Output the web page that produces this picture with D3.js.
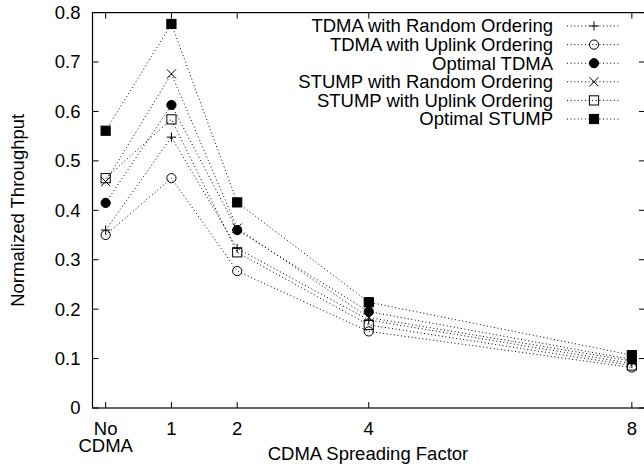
<!DOCTYPE html>
<html>
<head>
<meta charset="utf-8">
<script src="https://cdn.jsdelivr.net/npm/d3@7"></script>
<style>
  body { margin: 0; background: #fff; }
  svg { display: block; }
  text { font-family: "Liberation Sans", Arial, sans-serif; fill: #000; }
</style>
</head>
<body>
<div id="chart"></div>
<script>
(function () {

// spreading factor (0 = no CDMA)
var factors = [0, 1, 2, 4, 8];
var tickLabels = [["No", "CDMA"], ["1"], ["2"], ["4"], ["8"]];
var yTicks = [0, 0.1, 0.2, 0.3, 0.4, 0.5, 0.6, 0.7, 0.8];

var tdmaRandom   = [0.360, 0.548, 0.323, 0.178, 0.090];
var tdmaUplink   = [0.350, 0.465, 0.277, 0.155, 0.082];
var tdmaOptimal  = [0.415, 0.613, 0.360, 0.195, 0.098];
var stumpRandom  = [0.458, 0.676, 0.364, 0.183, 0.095];
var stumpUplink  = [0.465, 0.584, 0.315, 0.168, 0.086];
var stumpOptimal = [0.561, 0.777, 0.416, 0.214, 0.107];

var seriesNames = [
  "TDMA with Random Ordering",
  "TDMA with Uplink Ordering",
  "Optimal TDMA",
  "STUMP with Random Ordering",
  "STUMP with Uplink Ordering",
  "Optimal STUMP"
];
var seriesMarkers = ["plus", "circle", "disc", "cross", "square", "box"];
var seriesValues = [tdmaRandom, tdmaUplink, tdmaOptimal, stumpRandom, stumpUplink, stumpOptimal];

var series = seriesNames.map(function (name, i) {
  return {name: name, marker: seriesMarkers[i], values: seriesValues[i]};
});

var W = 644, H = 467;
var margin = {top: 12.6, right: -1, bottom: 59, left: 92.5},
    width = W - margin.left - margin.right,
    height = H - margin.top - margin.bottom;

var fontSize = 18.5;

var svg = d3.select("#chart").append("svg")
    .attr("width", W)
    .attr("height", H);

var chart = svg.append("g")
    .attr("transform", "translate(" + margin.left + "," + margin.top + ")");

var x = d3.scaleLinear()
    .domain([-0.2, 8.2])
    .range([0, width]);

var y = d3.scaleLinear()
    .domain([0, 0.8])
    .range([height, 0]);

var tickLen = 6;

// y ticks, mirrored on the right
chart.append("g").selectAll("line.yl")
    .data(yTicks).enter()
    .append("line")
    .attr("x1", 0).attr("x2", tickLen)
    .attr("y1", function (d) { return y(d); })
    .attr("y2", function (d) { return y(d); })
    .attr("stroke", "#000");

chart.append("g").selectAll("line.yr")
    .data(yTicks).enter()
    .append("line")
    .attr("x1", width - tickLen).attr("x2", width)
    .attr("y1", function (d) { return y(d); })
    .attr("y2", function (d) { return y(d); })
    .attr("stroke", "#000");

chart.append("g").selectAll("text")
    .data(yTicks).enter()
    .append("text")
    .attr("x", -12)
    .attr("y", function (d) { return y(d); })
    .attr("dy", "0.35em")
    .attr("text-anchor", "end")
    .style("font-size", fontSize + "px")
    .text(function (d) { return d === 0 ? "0" : d3.format(".1f")(d); });

// x ticks, mirrored at the top
chart.append("g").selectAll("line")
    .data(factors).enter()
    .append("line")
    .attr("x1", function (d) { return x(d); })
    .attr("x2", function (d) { return x(d); })
    .attr("y1", height).attr("y2", height - tickLen)
    .attr("stroke", "#000");

chart.append("g").selectAll("line")
    .data(factors).enter()
    .append("line")
    .attr("x1", function (d) { return x(d); })
    .attr("x2", function (d) { return x(d); })
    .attr("y1", 0).attr("y2", tickLen)
    .attr("stroke", "#000");

var xLab = chart.append("g").selectAll("text")
    .data(factors).enter()
    .append("text")
    .attr("text-anchor", "middle")
    .style("font-size", fontSize + "px");

xLab.selectAll("tspan")
    .data(function (d, i) {
      return tickLabels[i].map(function (t) { return {f: d, t: t}; });
    })
    .enter()
    .append("tspan")
    .attr("x", function (d) { return x(d.f); })
    .attr("y", function (d, j) { return height + 27 + j * 17; })
    .text(function (d) { return d.t; });

// frame
chart.append("rect")
    .attr("width", width)
    .attr("height", height)
    .attr("fill", "none")
    .attr("stroke", "#000")
    .attr("stroke-width", 1.2);

// axis titles
svg.append("text")
    .attr("x", 368)
    .attr("y", 460)
    .attr("text-anchor", "middle")
    .style("font-size", fontSize + "px")
    .text("CDMA Spreading Factor");

svg.append("text")
    .attr("transform", "translate(24," + (margin.top + height / 2) + ") rotate(-90)")
    .attr("text-anchor", "middle")
    .style("font-size", fontSize + "px")
    .text("Normalized Throughput");

// markers
var ms = 4.6;
function marker(sel, type) {
  if (type === "plus") {
    sel.append("path")
      .attr("d", "M" + -ms + ",0H" + ms + "M0," + -ms + "V" + ms)
      .attr("stroke", "#000").attr("fill", "none");
  } else if (type === "cross") {
    sel.append("path")
      .attr("d", "M" + -ms + "," + -ms + "L" + ms + "," + ms + "M" + -ms + "," + ms + "L" + ms + "," + -ms)
      .attr("stroke", "#000").attr("fill", "none");
  } else if (type === "circle" || type === "disc") {
    sel.append("circle")
      .attr("r", ms)
      .attr("fill", type === "disc" ? "#000" : "none")
      .attr("stroke", "#000");
  } else {
    sel.append("rect")
      .attr("x", -ms).attr("y", -ms)
      .attr("width", 2 * ms).attr("height", 2 * ms)
      .attr("fill", type === "box" ? "#000" : "none")
      .attr("stroke", "#000");
  }
}

var line = d3.line()
    .x(function (d, i) { return x(factors[i]); })
    .y(function (d) { return y(d); });

var dash = "1,2.6";

series.forEach(function (s) {
  chart.append("path")
    .attr("d", line(s.values))
    .attr("fill", "none")
    .attr("stroke", "#000")
    .attr("stroke-width", 1)
    .attr("stroke-dasharray", dash);

  s.values.forEach(function (v, i) {
    chart.append("g")
      .attr("transform", "translate(" + x(factors[i]) + "," + y(v) + ")")
      .call(marker, s.marker);
  });
});

// legend
var legend = svg.append("g");
var rowH = 18.6, row0 = 26;

series.forEach(function (s, i) {
  var ry = row0 + i * rowH;
  legend.append("text")
    .attr("x", 553)
    .attr("y", ry)
    .attr("dy", "0.35em")
    .attr("text-anchor", "end")
    .style("font-size", fontSize + "px")
    .text(s.name);
  legend.append("line")
    .attr("x1", 567).attr("x2", 621)
    .attr("y1", ry).attr("y2", ry)
    .attr("stroke", "#000")
    .attr("stroke-dasharray", dash);
  legend.append("g")
    .attr("transform", "translate(594," + ry + ")")
    .call(marker, s.marker);
});

}).call(this);
</script>
</body>
</html>
